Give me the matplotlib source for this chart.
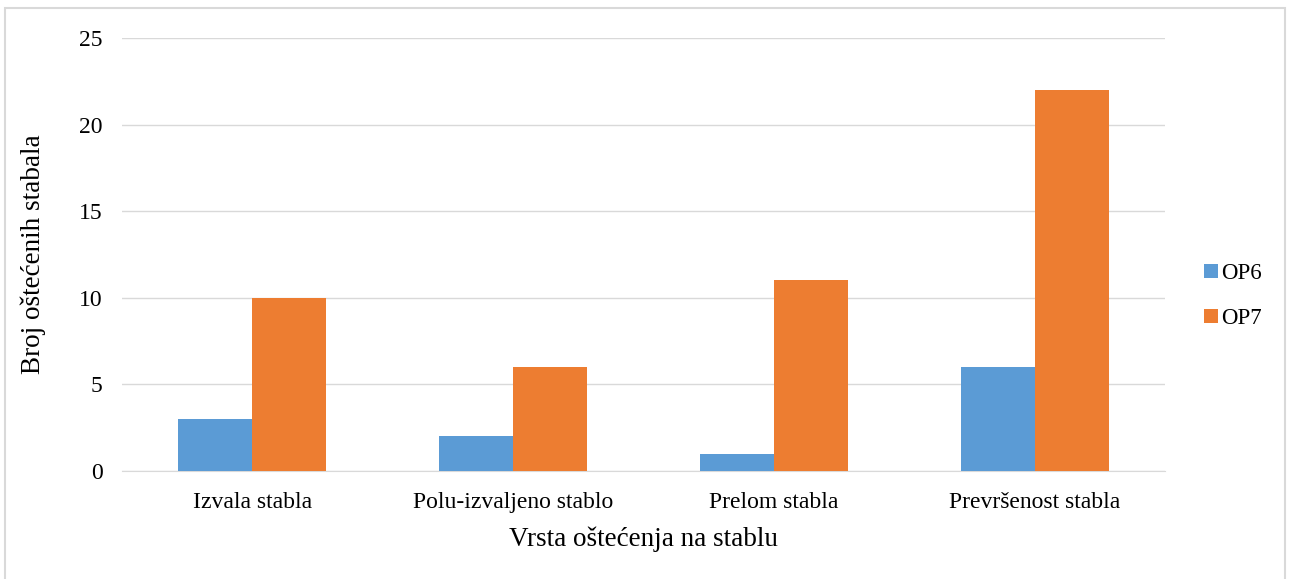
import numpy as np
import matplotlib.pyplot as plt
from matplotlib.patches import Rectangle

plt.rcParams['font.family'] = ['Liberation Serif', 'DejaVu Serif']

categories = ['Izvala stabla', 'Polu-izvaljeno stablo', 'Prelom stabla', 'Prevršenost stabla']
op6 = [3, 2, 1, 6]
op7 = [10, 6, 11, 22]

fig = plt.figure(figsize=(12.92, 5.79), dpi=100)
ax = fig.add_axes([0.0944, 0.1865, 0.8073, 0.748])

x = np.arange(len(categories))
w = 0.284
ax.bar(x - w / 2, op6, w, color='#5B9BD5', label='OP6', zorder=3)
ax.bar(x + w / 2, op7, w, color='#ED7D31', label='OP7', zorder=3)

ax.set_xlim(-0.5, len(categories) - 0.5)
ax.set_ylim(0, 25)
ax.set_yticks(range(0, 26, 5))
ax.set_xticks(x)
ax.set_xticklabels(categories)
ax.yaxis.grid(True, color='#D9D9D9', linewidth=1, zorder=0)
for s in ['top', 'right', 'left']:
    ax.spines[s].set_visible(False)
ax.spines['bottom'].set_color('#D9D9D9')
ax.tick_params(axis='both', length=0, labelsize=17, colors='#000000')
ax.tick_params(axis='x', pad=15)
ax.tick_params(axis='y', pad=14)

ax.set_xlabel('Vrsta oštećenja na stablu', fontsize=19.5, labelpad=10)
ax.set_ylabel('Broj oštećenih stabala', fontsize=19.5, labelpad=24)

ax.legend(loc='center left', bbox_to_anchor=(1.018, 0.404), frameon=False,
          fontsize=16.5, handlelength=0.6, handleheight=0.6, labelspacing=1.05,
          handletextpad=0.15)

fig.patches.append(Rectangle((5 / 1292, -0.05), 1280 / 1292, 1.05 - 8 / 579,
                             transform=fig.transFigure, fill=False,
                             edgecolor='#D9D9D9', linewidth=1.5))

plt.savefig('out.png', dpi=100)
